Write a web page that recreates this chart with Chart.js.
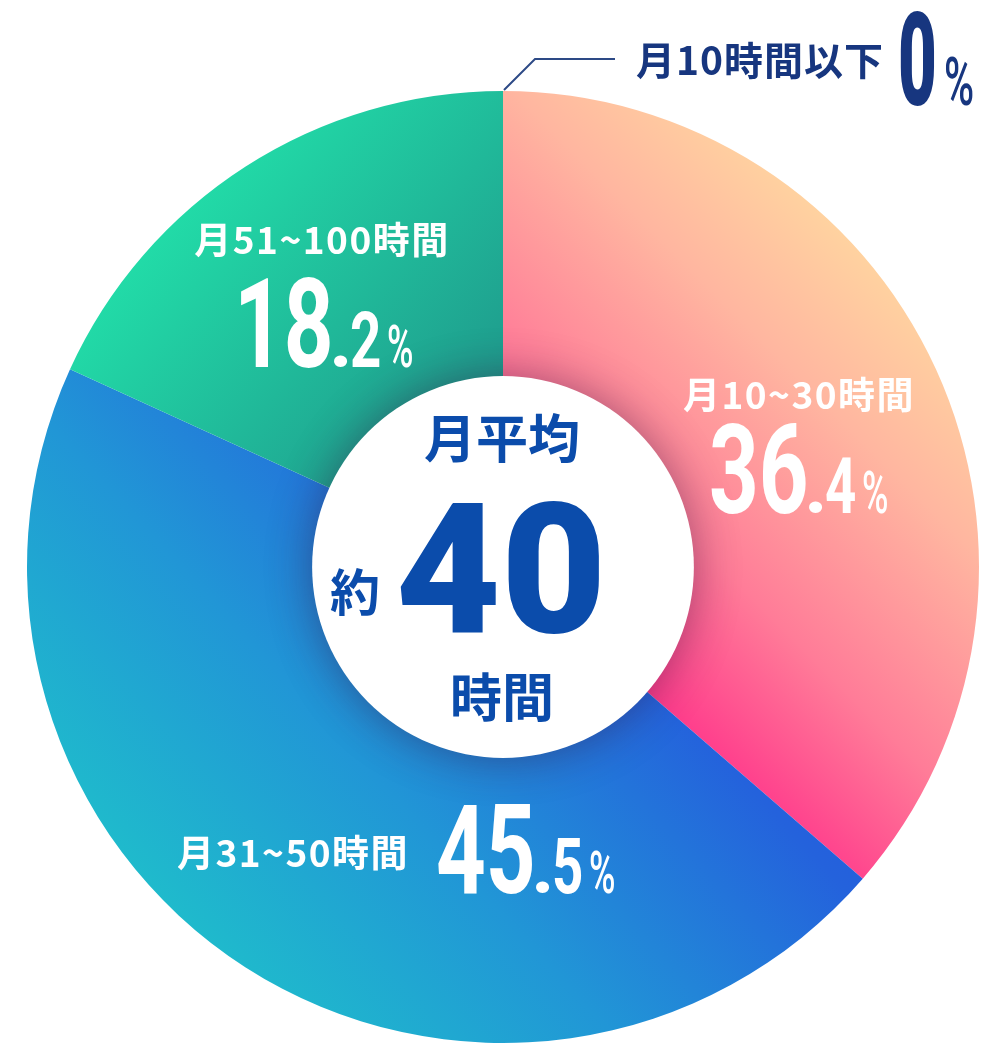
<!DOCTYPE html>
<html lang="ja">
<head>
<meta charset="utf-8">
<script src="https://cdn.jsdelivr.net/npm/chart.js@4"></script>
<style>
  html, body { margin: 0; padding: 0; background: #fff; }
  #wrap { width: 988px; height: 1044px; }
</style>
</head>
<body>
<div id="wrap"><canvas id="hours-chart" width="988" height="1044"></canvas></div>
<script>
// data
var categories = ['月10~30時間', '月31~50時間', '月51~100時間', '月10時間以下'];
var shares = [36.4, 45.5, 18.2, 0];
var centerLabels = ['月平均', '約', '40', '時間'];

var JP = '"Noto Sans CJK JP", "Noto Sans", sans-serif';
var NUM = 'Roboto, "Liberation Sans", sans-serif';
var NAVY = '#17367f';
var BLUE_TXT = '#0b4cab';

// where the labels sit (name centre, number left/baseline)
var labelPos = [
  { name: [799, 395], num: [713, 513] },
  { name: [293, 853], num: [440, 893] },
  { name: [322, 240], num: [238, 367] }
];

function geom(chart) {
  var a = chart.chartArea;
  return {
    cx: (a.left + a.right) / 2,
    cy: (a.top + a.bottom) / 2,
    r: Math.min(a.right - a.left, a.bottom - a.top) / 2
  };
}

function segColor(c) {
  var chart = c.chart;
  if (!chart.chartArea) return '#cccccc';
  var g = geom(chart), ctx = chart.ctx, cx = g.cx, cy = g.cy, r = g.r, grd;
  if (c.dataIndex === 0) {
    grd = ctx.createLinearGradient(cx + 0.72 * r, cy - 0.72 * r, cx + 0.02 * r, cy - 0.02 * r);
    grd.addColorStop(0, '#ffd4a0');
    grd.addColorStop(0.3, '#ffb6a0');
    grd.addColorStop(0.7, '#ff7c98');
    grd.addColorStop(1, '#ff3d8c');
  } else if (c.dataIndex === 1) {
    grd = ctx.createLinearGradient(cx - 0.9 * r, cy + 0.8 * r, cx + 0.4 * r, cy - 0.4 * r);
    grd.addColorStop(0, '#1ec9c8');
    grd.addColorStop(0.4, '#2196d6');
    grd.addColorStop(0.72, '#2462dc');
    grd.addColorStop(1, '#2450dc');
  } else {
    grd = ctx.createLinearGradient(cx - 0.8 * r, cy - 0.8 * r, cx, cy - 0.1 * r);
    grd.addColorStop(0, '#22e6ac');
    grd.addColorStop(1, '#1e8a86');
  }
  return grd;
}

function condensed(ctx, text, x, y, font, sx) {
  ctx.save();
  ctx.translate(x, y);
  ctx.scale(sx, 1);
  ctx.font = font;
  ctx.fillText(text, 0, 0);
  ctx.restore();
}

function drawShare(ctx, value, x, y) {
  var s = value.toFixed(1).split('.');
  ctx.textAlign = 'left';
  ctx.textBaseline = 'alphabetic';
  condensed(ctx, s[0], x - 4, y, '700 124px ' + NUM, 0.7);
  condensed(ctx, '.', x + 91, y, '700 78px ' + NUM, 1.05);
  condensed(ctx, s[1], x + 112, y, '700 78px ' + NUM, 0.7);
  condensed(ctx, '%', x + 149, y, '500 60px ' + NUM, 0.6);
}

var overlay = {
  id: 'overlay',
  afterDatasetsDraw: function(chart) {
    var ctx = chart.ctx, g = geom(chart);
    var inner = g.r * 0.401;

    // white centre disc with soft shadow
    ctx.save();
    ctx.shadowColor = 'rgba(50, 20, 60, 0.45)';
    ctx.shadowBlur = 45;
    ctx.fillStyle = '#ffffff';
    ctx.beginPath();
    ctx.arc(g.cx, g.cy, inner, 0, Math.PI * 2);
    ctx.fill();
    ctx.restore();

    ctx.save();
    // segment labels
    ctx.fillStyle = '#ffffff';
    for (var i = 0; i < labelPos.length; i++) {
      ctx.font = '700 37px ' + JP;
      ctx.letterSpacing = '1.5px';
      ctx.textAlign = 'center';
      ctx.textBaseline = 'middle';
      ctx.fillText(categories[i], labelPos[i].name[0], labelPos[i].name[1]);
      ctx.letterSpacing = '0px';
      drawShare(ctx, shares[i], labelPos[i].num[0], labelPos[i].num[1]);
    }

    // the empty 0% slice: leader line from its start on the rim
    var arc = chart.getDatasetMeta(0).data[3];
    var sx = arc.x + Math.cos(arc.startAngle) * arc.outerRadius;
    var sy = arc.y + Math.sin(arc.startAngle) * arc.outerRadius;
    ctx.strokeStyle = '#2d4a86';
    ctx.lineWidth = 2;
    ctx.beginPath();
    ctx.moveTo(sx + 1, sy - 1);
    ctx.lineTo(sx + 32, sy - 32);
    ctx.lineTo(sx + 112, sy - 32);
    ctx.stroke();

    ctx.fillStyle = NAVY;
    ctx.font = '700 39px ' + JP;
    ctx.letterSpacing = '1px';
    ctx.textAlign = 'left';
    ctx.textBaseline = 'middle';
    ctx.fillText(categories[3], 636, 60);
    ctx.letterSpacing = '0px';
    ctx.textBaseline = 'alphabetic';
    condensed(ctx, String(shares[3]), 898, 105, '900 129px ' + NUM, 0.52);
    condensed(ctx, '%', 944, 105, '500 66px ' + NUM, 0.62);

    // centre text
    ctx.fillStyle = BLUE_TXT;
    ctx.textAlign = 'center';
    ctx.textBaseline = 'middle';
    ctx.font = '700 52px ' + JP;
    ctx.fillText(centerLabels[0], g.cx - 1, 438);
    ctx.font = '700 50px ' + JP;
    ctx.fillText(centerLabels[1], 355, 592);
    ctx.font = '700 52px ' + JP;
    ctx.fillText(centerLabels[3], g.cx - 1, 697);
    ctx.textBaseline = 'alphabetic';
    ctx.font = '900 182px ' + NUM;
    ctx.fillText(centerLabels[2], 501, 632);
    ctx.restore();
  }
};

var hoursChart = new Chart(document.getElementById('hours-chart').getContext('2d'), {
  type: 'doughnut',
  data: {
    labels: categories,
    datasets: [
      {
        data: shares,
        backgroundColor: segColor,
        borderWidth: 0,
        offset: 0,
        hoverOffset: 0
      }
    ]
  },
  options: {
    responsive: false,
    animation: false,
    cutout: '30%',
    layout: {
      padding: { left: 27, right: 9, top: 91, bottom: 1 }
    },
    plugins: {
      legend: { display: false },
      tooltip: { enabled: false }
    },
    events: []
  },
  plugins: [overlay]
});
</script>
</body>
</html>
